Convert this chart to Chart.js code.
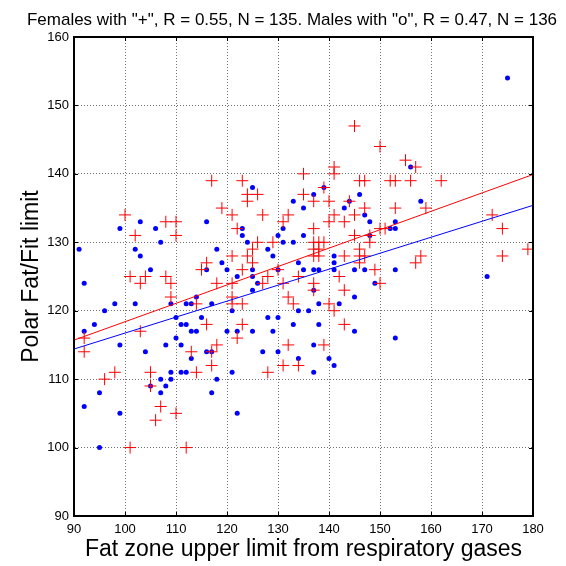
<!DOCTYPE html>
<html><head><meta charset="utf-8">
<script src="https://cdn.jsdelivr.net/npm/chart.js@4.4.0/dist/chart.umd.min.js"></script>
<style>html,body{margin:0;padding:0;background:#fff}#wrap{width:566px;height:566px}</style>
</head><body><div id="wrap"><canvas id="c" width="566" height="566"></canvas></div>
<script>
const chartTitle = 'Females with "+", R = 0.55, N = 135. Males with "o", R = 0.47, N = 136';
const xAxisTitle = 'Fat zone upper limit from respiratory gases';
const yAxisTitle = 'Polar Fat/Fit limit';
const xTickValues = [90,100,110,120,130,140,150,160,170,180];
const yTickValues = [90,100,110,120,130,140,150,160];

const femaleX = [145,141,141,135,117,123,124,126,135,139,146,147,150,155,157,152,153,156,162,100,102,108,110,110,116,115,101,104,103,108,109,118,109,114,116,103,92,118,92,113,117,98,96,105,105,107,106,110,114,117,101,112,128,131,134,124,137,140,144,119,121,127,132,131,141,143,145,147,140,137,145,122,126,129,137,138,139,137,138,137,138,125,124,125,121,123,121,128,127,130,134,131,137,137,142,143,146,146,146,147,143,140,141,132,133,121,121,123,123,122,143,132,139,153,159,150,151,148,148,149,150,157,158,172,174,174,179];
const femaleY = [147,141,140,140,139,139,137,137,137,138,139,139,144,142,141,139,139,139,139,134,131,133,133,131,127,126,125,125,124,125,124,124,122,121,118,117,116,115,114,114,114,111,110,111,109,106,104,105,111,112,100,100,111,112,112,136,136,136,136,135,134,134,134,133,134,133,134,135,133,132,131,132,130,130,130,130,130,129,129,128,128,129,128,127,128,126,124,125,124,126,125,124,124,123,125,128,129,128,127,128,123,121,120,122,121,122,121,121,118,116,118,115,115,135,135,132,132,131,130,126,124,127,128,134,132,128,129];

const maleX = [125,137,139,146,175,156,99,103,106,107,116,91,102,103,105,118,116,92,114,98,102,109,112,113,117,96,110,94,111,112,115,113,114,92,99,110,108,111,104,116,117,95,92,99,95,105,107,108,107,109,109,111,112,113,117,118,121,122,127,130,134,137,140,141,144,133,135,131,143,135,123,123,130,124,131,133,128,129,119,125,120,122,125,126,130,134,135,137,138,137,141,141,141,145,145,142,138,134,136,125,121,128,130,120,122,125,129,133,138,145,137,147,148,158,153,153,152,148,147,149,153,153,171];
const maleY = [138,137,138,137,154,141,132,133,132,130,133,129,129,128,126,129,126,124,122,121,121,121,121,121,121,120,119,118,118,118,119,117,117,117,115,116,115,115,114,114,114,108,106,105,100,109,110,109,108,110,111,111,111,113,108,110,111,105,114,114,113,111,113,112,136,136,135,132,135,131,132,131,131,130,130,130,129,128,127,126,126,125,125,124,126,127,126,126,126,123,128,127,126,126,122,121,121,120,120,123,120,119,119,117,117,117,117,118,118,117,115,134,133,136,133,132,132,131,126,124,126,116,125];

const fitX = [90, 180];
const femaleFit = [115.7, 139.9];
const maleFit = [114.4, 135.4];

function pts(xs, ys) { return xs.map((x, i) => ({x: x, y: ys[i]})); }

const FONT = "'Liberation Sans', Arial, sans-serif";

const framePlugin = {
  id: 'frame',
  afterDraw(chart) {
    const {ctx, chartArea: a, scales} = chart;
    ctx.save();
    ctx.strokeStyle = '#000';
    ctx.lineWidth = 1;
    ctx.beginPath();
    xTickValues.forEach(v => {
      const px = Math.round(scales.x.getPixelForValue(v)) + 0.5;
      ctx.moveTo(px, a.top); ctx.lineTo(px, a.top + 4);
      ctx.moveTo(px, a.bottom); ctx.lineTo(px, a.bottom - 4);
    });
    yTickValues.forEach(v => {
      const py = Math.round(scales.y.getPixelForValue(v)) + 0.5;
      ctx.moveTo(a.left, py); ctx.lineTo(a.left + 4, py);
      ctx.moveTo(a.right, py); ctx.lineTo(a.right - 4, py);
    });
    ctx.stroke();
    ctx.lineWidth = 2;
    ctx.strokeRect(a.left, a.top, a.right - a.left, a.bottom - a.top);
    ctx.fillStyle = '#000';
    ctx.font = '17px ' + FONT;
    ctx.textAlign = 'center';
    ctx.textBaseline = 'alphabetic';
    ctx.fillText(chartTitle, 292, 25);
    ctx.restore();
  }
};

new Chart(document.getElementById('c'), {
  type: 'scatter',
  data: {
    datasets: [
      { label: 'Female fit', data: pts(fitX, femaleFit), showLine: true, borderColor: '#ff0000', borderWidth: 1, pointRadius: 0, fill: false },
      { label: 'Male fit', data: pts(fitX, maleFit), showLine: true, borderColor: '#0000ff', borderWidth: 1, pointRadius: 0, fill: false },
      { label: 'Females', data: pts(femaleX, femaleY), pointStyle: 'cross', pointRadius: 6, pointBorderWidth: 1, borderColor: '#ff0000', backgroundColor: '#ff0000' },
      { label: 'Males', data: pts(maleX, maleY), pointStyle: 'circle', pointRadius: 2.5, pointBorderWidth: 0, borderColor: '#0000ff', backgroundColor: '#0000ff' }
    ]
  },
  options: {
    responsive: false,
    animation: false,
    devicePixelRatio: 1,
    layout: { padding: { top: 37, right: 33, left: 0, bottom: 0 } },
    plugins: { legend: { display: false }, tooltip: { enabled: false }, title: { display: false } },
    scales: {
      x: {
        type: 'linear', min: 90, max: 180,
        afterFit(s) { s.height = 50; },
        afterBuildTicks(s) { s.ticks = xTickValues.map(v => ({value: v})); },
        ticks: { padding: 6, color: '#000', font: { family: FONT, size: 13 } },
        grid: { color: 'rgba(0,0,0,0.55)', lineWidth: 1, drawTicks: false },
        border: { display: true, color: '#000', width: 2, dash: [1, 2] },
        title: { display: true, text: xAxisTitle, color: '#000', font: { family: FONT, size: 23 }, padding: { top: 0, bottom: 3 } }
      },
      y: {
        type: 'linear', min: 90, max: 160,
        afterFit(s) { s.width = 74; },
        afterBuildTicks(s) { s.ticks = yTickValues.map(v => ({value: v})); },
        ticks: { padding: 5, color: '#000', font: { family: FONT, size: 13 } },
        grid: { color: 'rgba(0,0,0,0.55)', lineWidth: 1, drawTicks: false },
        border: { display: true, color: '#000', width: 2, dash: [1, 2] },
        title: { display: true, text: yAxisTitle, color: '#000', font: { family: FONT, size: 23 }, padding: { top: 18, bottom: 0 } }
      }
    }
  },
  plugins: [framePlugin]
});
</script>
</body></html>
